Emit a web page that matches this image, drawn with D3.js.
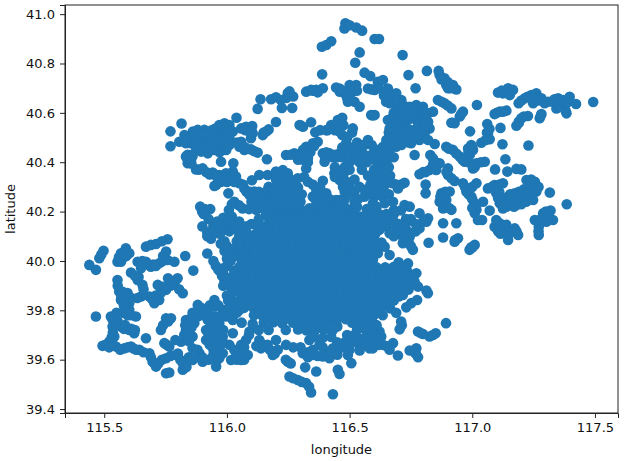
<!DOCTYPE html>
<html>
<head>
	<meta charset="utf-8">
	<style>
	html, body { margin: 0; padding: 0; background: #fff; }
	svg { display: block; }
	text { font-family: "DejaVu Sans", sans-serif; fill: #111; }
	.tick text { font-size: 13px; }
	.tick line, .domain { stroke: #222; }
	</style>
</head>
<body>
<div id="graph"></div>
<script src="https://d3js.org/d3.v7.min.js"></script>
<script>

var xTicks = [115.5, 116.0, 116.5, 117.0, 117.5],
    yTicks = [39.4, 39.6, 39.8, 40.0, 40.2, 40.4, 40.6, 40.8, 41.0];

// stations, [longitude, latitude], by area
var west = [[115.439,39.984],[115.466,39.964],[115.48,40.011],[115.497,40.041],[115.554,39.997],[115.568,40.031],[115.588,40.051],[115.602,40.031],[115.568,39.997],[115.67,40.058],[115.711,40.069],[115.758,40.088],[115.83,40.02],[115.863,39.961],[115.636,39.997],[115.67,39.997],[115.65,39.97],[115.609,39.953],[115.636,39.923],[115.656,39.903],[115.69,39.977],[115.724,39.991],[115.752,40.038],[115.758,40.004],[115.786,39.997],[115.799,39.93],[115.772,39.916],[115.752,39.883],[115.82,39.869],[115.718,39.903],[115.724,39.842],[115.704,39.829],[115.684,39.856],[115.65,39.856],[115.554,39.923],[115.561,39.876],[115.568,39.842],[115.602,39.829],[115.588,39.856],[115.602,39.802],[115.629,39.775],[115.527,39.775],[115.466,39.775],[115.534,39.734],[115.568,39.734],[115.602,39.72],[115.622,39.707],[115.67,39.687],[115.541,39.694],[115.52,39.673],[115.493,39.656],[115.548,39.653],[115.582,39.646],[115.609,39.653],[115.643,39.64],[115.684,39.626],[115.697,39.592],[115.711,39.572],[115.752,39.606],[115.792,39.619],[115.752,39.545],[115.765,39.548],[115.82,39.559],[115.82,39.586],[115.86,39.646],[115.901,39.592],[115.956,39.572],[115.969,39.606],[115.888,39.626],[115.86,39.599],[115.752,39.768],[115.731,39.72],[115.772,39.768],[115.745,39.667],[115.765,39.653],[115.813,39.673],[115.826,39.7],[115.86,39.694],[115.833,39.761],[115.854,39.768],[115.867,39.748],[115.833,39.72],[115.881,39.822],[115.915,39.795],[115.949,39.842],[115.983,39.802],[115.922,39.761],[115.956,39.775],[115.996,39.775],[115.915,39.72],[115.915,39.68],[115.942,39.734],[115.969,39.748],[115.983,39.694],[115.956,39.66],[115.983,39.626],[115.942,39.694],[115.956,39.7],[116.024,39.761],[116.024,39.707],[116.01,39.66],[116.037,39.613],[116.017,39.599],[116.058,39.599],[116.085,39.619],[116.058,39.66],[116.078,39.68],[116.092,39.714]];

var westMore = [[115.488,40.026],[115.58,40.015],[115.56,40.015],[115.585,40.035],[115.59,40.02],[115.65,39.985],[115.655,40.0],[115.68,39.985],[115.7,39.985],[115.71,39.98],[115.735,39.998],[115.74,40.02],[115.64,39.935],[115.625,39.94],[115.66,39.885],[115.69,40.065],[115.735,40.08],[115.77,39.9],[115.79,39.92],[115.74,39.895],[115.73,39.87],[115.71,39.86],[115.695,39.845],[115.805,39.885],[115.76,39.93],[115.57,39.855],[115.585,39.84],[115.575,39.875],[115.595,39.87],[115.61,39.85],[115.555,39.9],[115.58,39.82],[115.59,39.8],[115.57,39.86],[115.635,39.85],[115.61,39.78],[115.595,39.78],[115.575,39.79],[115.55,39.79],[115.535,39.76],[115.555,39.755],[115.58,39.725],[115.585,39.74],[115.61,39.725],[115.625,39.72],[115.505,39.66],[115.52,39.65],[115.535,39.66],[115.565,39.64],[115.595,39.65],[115.62,39.645],[115.63,39.64],[115.66,39.63],[115.69,39.61],[115.705,39.585],[115.72,39.585],[115.735,39.6],[115.77,39.615],[115.8,39.625],[115.81,39.6],[115.835,39.57],[115.845,39.61],[115.88,39.64],[115.875,39.61],[115.9,39.61],[115.925,39.6],[115.95,39.62],[115.96,39.6],[115.53,39.69],[115.535,39.71],[115.74,39.74],[115.76,39.755],[115.755,39.66],[115.79,39.68],[115.84,39.69],[115.845,39.71],[115.855,39.73],[115.83,39.74],[115.845,39.675],[115.895,39.81],[115.9,39.78],[115.93,39.82],[115.95,39.815],[115.965,39.82],[115.975,39.775],[115.93,39.78],[115.935,39.75],[115.95,39.75],[115.93,39.72],[115.96,39.72],[115.925,39.7],[115.97,39.7],[115.97,39.67],[115.94,39.67],[115.97,39.65],[115.985,39.67],[115.985,39.72],[115.93,39.66],[115.945,39.64],[115.97,39.63],[115.945,39.62],[115.88,39.775],[115.86,39.79],[116.03,39.64],[116.05,39.63],[116.07,39.63],[116.07,39.6],[116.04,39.6],[116.07,39.65],[116.09,39.7],[116.105,39.745],[116.06,39.75],[116.0,39.78],[116.02,39.78],[116.04,39.79],[116.01,39.81],[116.05,39.8],[116.005,39.84],[116.03,39.82],[115.99,39.92],[115.98,39.94],[116.0,39.86],[116.02,39.84],[115.985,39.9]];

var south = [[116.139,39.646],[116.187,39.619],[116.207,39.64],[116.248,39.592],[116.255,39.532],[116.289,39.518],[116.323,39.505],[116.343,39.467],[116.319,39.569],[116.364,39.552],[116.432,39.46],[116.309,39.626],[116.35,39.619],[116.391,39.613],[116.418,39.606],[116.452,39.559],[116.166,39.66],[116.132,39.68],[116.2,39.68],[116.241,39.66],[116.336,39.68],[116.377,39.66],[116.432,39.646],[116.459,39.542],[116.893,39.748],[116.713,39.74],[116.704,39.723],[116.779,39.714],[116.799,39.704],[116.826,39.694],[116.851,39.707],[116.622,39.714],[116.629,39.694],[116.677,39.667],[116.663,39.64],[116.636,39.66],[116.595,39.646],[116.581,39.646],[116.541,39.66],[116.541,39.637],[116.5,39.64],[116.493,39.619],[116.507,39.586],[116.52,39.7],[116.697,39.617],[116.745,39.637],[116.772,39.646],[116.779,39.61],
[116.12,39.655],[116.15,39.66],[116.175,39.64],[116.195,39.625],[116.24,39.6],[116.26,39.585],[116.27,39.525],[116.305,39.51],[116.335,39.49],[116.33,39.63],[116.33,39.61],[116.37,39.615],[116.41,39.63],[116.35,39.64],[116.39,39.65],[116.45,39.62],[116.47,39.65],[116.555,39.66],[116.57,39.68],[116.6,39.67],[116.62,39.66],[116.65,39.655],[116.54,39.68],[116.6,39.7],[116.6,39.72],[116.61,39.74],[116.58,39.72],[116.3,39.65],[116.27,39.65],[116.45,39.67],[116.48,39.67],[116.51,39.67],[116.49,39.7],[116.765,39.63],[116.77,39.625],[116.71,39.755],[116.79,39.708],[116.84,39.7]];

var northwest = [[115.77,40.525],[115.815,40.557],[115.77,40.465],[115.827,40.51],[115.806,40.483],[115.861,40.524],[115.881,40.531],[115.908,40.531],[115.935,40.528],[115.969,40.551],[115.99,40.558],[116.01,40.551],[116.024,40.524],[115.983,40.524],[115.963,40.504],[115.915,40.49],[115.874,40.49],[115.854,40.477],[115.833,40.477],[115.874,40.456],[115.895,40.443],[115.922,40.436],[115.949,40.45],[115.969,40.463],[115.99,40.477],[116.01,40.497],[115.997,40.45],[115.949,40.483],[116.039,40.58],[116.058,40.537],[116.078,40.544],[116.103,40.547],[116.092,40.524],[116.105,40.517],[116.098,40.497],[116.146,40.51],[116.16,40.524],[116.17,40.533],[116.058,40.483],[116.051,40.463],[116.071,40.45],[116.098,40.452],[116.125,40.439],[116.163,40.412],[115.833,40.423],[115.84,40.396],[115.854,40.409],[115.847,40.429],[115.874,40.371],[115.901,40.375],[115.942,40.358],[115.976,40.402],[116.026,40.396],[115.969,40.348],[115.996,40.355],[116.024,40.362],[116.037,40.342],[116.01,40.335],[115.983,40.335],[115.956,40.308],[115.949,40.304],[116.051,40.315],[116.071,40.294],[116.092,40.267],[116.112,40.281],[116.132,40.261],[116.139,40.24],[116.006,40.274],[116.03,40.24],[116.064,40.213],[116.119,40.207],[115.891,40.22],[115.932,40.21],[115.899,40.2],[116.008,40.206],[115.925,40.17],[115.945,40.145],[116.102,40.327],[116.132,40.348],[116.166,40.348],[116.2,40.362],[116.228,40.368],[116.248,40.355],[115.99,40.15],[116.01,40.16],[115.98,40.12],[115.9,40.14],[115.92,40.115],[115.935,40.09],[115.99,40.08],[115.96,40.16],[115.99,40.04],[116.0,40.01],[115.92,40.03],[115.945,40.0],[115.965,39.965]];

var northwestMore = [[115.85,40.5],[115.87,40.51],[115.89,40.51],[115.83,40.49],[115.9,40.51],[115.94,40.5],[115.955,40.52],[115.98,40.54],[115.95,40.535],[116.0,40.53],[115.93,40.47],[115.95,40.47],[115.93,40.455],[115.91,40.46],[115.97,40.44],[115.985,40.45],[115.98,40.49],[116.0,40.465],[116.01,40.47],[115.89,40.47],[115.875,40.47],[116.075,40.53],[116.1,40.53],[116.06,40.47],[116.075,40.46],[116.11,40.445],[116.15,40.52],[116.04,40.48],[115.84,40.41],[115.84,40.43],[115.86,40.425],[115.855,40.395],[115.885,40.37],[115.915,40.36],[115.93,40.35],[115.96,40.34],[115.95,40.35],[115.975,40.32],[116.0,40.32],[116.02,40.34],[116.04,40.32],[116.03,40.32],[116.065,40.31],[116.08,40.28],[116.095,40.28],[116.1,40.24],[116.12,40.25],[116.13,40.28],[116.11,40.23],[116.02,40.23],[116.05,40.225],[116.09,40.21],[115.91,40.21],[115.905,40.19],[115.935,40.12],[115.92,40.1],[115.97,40.14],[116.0,40.13],[116.01,40.12],[116.03,40.13],[116.02,40.18],[115.985,40.175],[116.03,40.16],[116.05,40.16],[116.05,40.14],[115.975,40.07],[116.0,40.06],[115.97,40.11],[115.955,39.98],[115.97,39.96],[115.985,39.95],[115.985,39.97],[116.0,39.98],[116.015,40.0],[116.02,40.02]];

var north = [[116.387,40.868],[116.405,40.875],[116.425,40.89],[116.388,40.756],[116.323,40.686],[116.343,40.693],[116.364,40.693],[116.391,40.70],[116.37,40.683],[116.445,40.703],[116.46,40.686],[116.248,40.68],[116.27,40.666],[116.242,40.66],[116.255,40.687],[116.18,40.655],[116.2,40.663],[116.22,40.652],[116.137,40.655],[116.125,40.616],[116.224,40.62],[116.266,40.62],[116.2,40.563],[116.296,40.551],[116.31,40.544],[116.343,40.562],[116.36,40.521],[116.405,40.53],[116.425,40.551],[116.452,40.571],[116.452,40.531],[116.323,40.463],[116.35,40.477],[116.37,40.483],[116.241,40.429],[116.275,40.436],[116.309,40.423],[116.33,40.416],[116.296,40.429],[116.391,40.436],[116.418,40.436],[116.398,40.402],[116.46,40.436],[116.33,40.44],[116.289,40.335],[116.33,40.321],[116.364,40.288],[116.405,40.274],[116.377,40.247],[116.35,40.261],[116.438,40.355],[116.459,40.328],[116.391,40.325],[116.323,40.375],[116.405,40.22],[116.445,40.247],[116.336,40.213],[116.418,40.193],[116.452,40.213],[116.483,40.963],[116.479,40.942],[116.5,40.955],[116.527,40.946],[116.551,40.933],[116.602,40.899],[116.62,40.899],[116.541,40.845],[116.523,40.803],[116.716,40.834],[116.561,40.763],[116.584,40.749],[116.615,40.726],[116.636,40.733],[116.74,40.753],[116.815,40.77],[116.769,40.70],[116.459,40.699],[116.479,40.679],[116.5,40.713],[116.527,40.713],[116.513,40.686],[116.493,40.645],[116.52,40.645],[116.541,40.625],[116.575,40.699],[116.602,40.693],[116.656,40.699],[116.649,40.645],[116.588,40.591],[116.602,40.591]];

var northMore = [[116.34,40.44],[116.31,40.45],[116.26,40.43],[116.32,40.44],[116.355,40.465],[116.31,40.41],[116.29,40.41],[116.33,40.4],[116.4,40.42],[116.43,40.42],[116.405,40.44],[116.44,40.43],[116.45,40.42],[116.47,40.42],[116.44,40.38],[116.46,40.36],[116.44,40.34],[116.48,40.38],[116.5,40.4],[116.475,40.35],[116.5,40.37],[116.315,40.34],[116.35,40.31],[116.38,40.3],[116.39,40.27],[116.36,40.25],[116.39,40.24],[116.42,40.25],[116.42,40.22],[116.36,40.22],[116.39,40.21],[116.44,40.21],[116.47,40.21],[116.48,40.25],[116.51,40.21],[116.53,40.22],[116.57,40.21],[116.52,40.24],[116.5,40.3],[116.52,40.28],[116.49,40.32],[116.52,40.33],[116.54,40.3],[116.56,40.26],[116.48,40.28],[116.47,40.69],[116.49,40.66],[116.505,40.65],[116.53,40.69],[116.52,40.7],[116.5,40.69],[116.59,40.695],[116.62,40.7],[116.64,40.67],[116.66,40.67],[116.67,40.66],[116.675,40.64],[116.595,40.59],[116.475,40.55],[116.46,40.55],[116.47,40.51],[116.49,40.5],[116.51,40.52],[116.53,40.48],[116.55,40.47],[116.47,40.46],[116.5,40.46],[116.59,40.47],[116.56,40.47],[116.48,40.44],[116.35,40.69],[116.41,40.53],[116.44,40.55],[116.44,40.53],[116.38,40.53],[116.47,40.58],[116.3,40.55]];

var northeast = [[116.863,40.77],[116.867,40.753],[116.887,40.74],[116.894,40.713],[116.921,40.713],[116.935,40.695],[116.901,40.70],[117.105,40.682],[117.125,40.679],[117.146,40.70],[117.166,40.693],[117.153,40.672],[117.189,40.639],[117.214,40.659],[117.241,40.672],[117.261,40.679],[117.248,40.639],[117.282,40.659],[117.295,40.639],[117.329,40.645],[117.35,40.659],[117.37,40.652],[117.397,40.665],[117.343,40.618],[117.384,40.598],[117.377,40.632],[117.423,40.636],[117.493,40.644],[117.019,40.632],[116.86,40.652],[116.887,40.639],[116.915,40.618],[116.962,40.605],[116.949,40.585],[116.915,40.56],[116.928,40.558],[117.091,40.595],[117.112,40.605],[117.139,40.609],[117.18,40.548],[117.2,40.578],[117.227,40.587],[117.275,40.578],[117.282,40.595],[117.061,40.555],[117.115,40.539],[116.991,40.525],[117.064,40.517],[117.071,40.493],[117.037,40.479],[117.123,40.473],[117.229,40.468],
[116.875,40.735],[116.9,40.725],[116.91,40.7],[116.925,40.7],[116.875,40.645],[116.9,40.63],[116.955,40.595],[116.92,40.56],[117.1,40.6],[117.125,40.605],[117.19,40.56],[117.21,40.585],[117.19,40.565],[117.28,40.59],[117.2,40.65],[117.225,40.665],[117.25,40.66],[117.27,40.65],[117.31,40.645],[117.335,40.655],[117.36,40.64],[117.35,40.63],[117.38,40.61],[117.385,40.64],[117.12,40.69],[117.14,40.68],[117.06,40.52],[117.055,40.49],[117.07,40.535]];

var east = [[117.135,40.412],[117.093,40.371],[117.143,40.362],[117.18,40.373],[117.2,40.371],[116.894,40.463],[116.921,40.45],[116.949,40.423],[116.969,40.402],[116.996,40.47],[117.003,40.45],[116.983,40.456],[117.017,40.396],[117.051,40.402],[117.003,40.375],[116.765,40.429],[116.829,40.429],[116.847,40.402],[116.867,40.396],[116.853,40.369],[116.826,40.369],[116.785,40.351],[116.901,40.375],[116.901,40.348],[116.928,40.324],[116.81,40.31],[116.81,40.274],[116.874,40.274],[116.908,40.281],[116.867,40.24],[116.894,40.247],[116.915,40.207],[116.881,40.213],[116.962,40.315],[116.976,40.281],[116.996,40.261],[117.017,40.315],[117.01,40.234],[117.044,40.24],[117.017,40.207],[117.071,40.204],[117.064,40.294],[117.091,40.308],[117.125,40.315],[117.098,40.274],[117.112,40.234],[117.132,40.247],[117.173,40.274],[117.153,40.234],[117.193,40.247],[117.221,40.328],[117.255,40.321],[117.234,40.301],[117.261,40.281],[117.248,40.247],[117.214,40.261],[117.18,40.227],[117.125,40.213],[117.316,40.277],[117.385,40.23],[117.289,40.193],[117.319,40.204],[117.145,40.26],[117.19,40.28],[117.21,40.29],[117.091,40.139],[117.112,40.153],[117.125,40.126],[117.146,40.085],[117.173,40.132],[117.187,40.105],[117.098,40.166],[117.139,40.146],[117.271,40.105],[117.271,40.139],[117.255,40.166],[117.302,40.159],[117.329,40.166],[117.04,40.166],[117.01,40.193],[117.023,40.166],[116.881,40.153],[116.935,40.153],[116.881,40.095],[116.822,40.074],[116.928,40.078],[116.942,40.092],[116.989,40.045],[117.01,40.065],[116.785,40.193],[116.82,40.173],[116.785,40.132],[116.813,40.159],[116.745,40.099],[116.758,40.045],[116.717,40.072],[116.738,40.119],[116.69,40.139],[116.731,40.153]];

var eastMore = [[116.905,40.455],[116.935,40.435],[116.96,40.41],[116.985,40.4],[117.0,40.39],[116.99,40.43],[117.01,40.38],[117.035,40.4],[116.985,40.44],[117.0,40.46],[116.84,40.415],[116.84,40.39],[116.81,40.36],[116.8,40.36],[116.895,40.36],[116.915,40.335],[116.88,40.26],[116.89,40.28],[116.87,40.26],[116.895,40.22],[116.905,40.215],[116.97,40.3],[116.985,40.27],[117.0,40.25],[117.0,40.3],[117.015,40.22],[117.0,40.215],[117.08,40.3],[117.11,40.31],[117.09,40.29],[117.11,40.28],[117.105,40.255],[117.12,40.24],[117.14,40.22],[117.17,40.22],[117.16,40.25],[117.18,40.25],[117.2,40.27],[117.23,40.28],[117.24,40.26],[117.2,40.23],[117.22,40.24],[117.24,40.31],[117.24,40.33],[117.25,40.3],[117.27,40.3],[117.13,40.23],[117.155,40.27],[117.16,40.26],[117.3,40.2],[117.31,40.18],[117.28,40.17],[117.27,40.12],[117.11,40.135],[117.12,40.14],[117.13,40.14],[117.1,40.15],[117.14,40.12],[117.15,40.11],[117.18,40.12],[117.105,40.12],[117.115,40.11],[116.93,40.085],[116.995,40.055],[117.0,40.055],[116.8,40.16],[116.77,40.12],[116.77,40.15],[116.75,40.17],[116.73,40.17],[116.71,40.12],[116.72,40.14],[116.7,40.11],[116.68,40.1],[116.72,40.09],[116.74,40.08],[116.75,40.06],[116.7,40.15],[116.65,40.14],[116.63,40.15],[116.61,40.16],[116.6,40.17],[116.57,40.17],[116.59,40.18],[116.62,40.19],[116.65,40.19],[116.66,40.17],[116.54,40.18],[116.52,40.19],[116.49,40.19],[116.46,40.19],[116.43,40.2],[116.4,40.19],[116.37,40.19],[116.34,40.19],[116.31,40.19],[116.28,40.19],[116.25,40.19],[116.22,40.19],[116.19,40.19],[116.16,40.19],[116.13,40.17],[116.1,40.15],[116.08,40.14],[116.06,40.11],[116.05,40.1],[116.68,40.205],[116.71,40.205],[116.61,40.22],[116.635,40.26],[116.6,40.26],[116.58,40.27],[116.62,40.27],[116.66,40.27],[116.69,40.31],[116.71,40.31]];

var northeastDense = [[116.663,40.639],[116.69,40.679],[116.711,40.652],[116.697,40.612],[116.677,40.585],[116.656,40.571],[116.717,40.612],[116.745,40.625],[116.772,40.632],[116.799,40.625],[116.82,40.598],[116.84,40.605],[116.799,40.591],[116.82,40.564],[116.826,40.537],[116.806,40.517],[116.785,40.49],[116.751,40.477],[116.724,40.483],[116.697,40.517],[116.663,40.537],[116.677,40.558],[116.704,40.578],[116.738,40.571],[116.772,40.571],[116.792,40.551],[116.772,40.524],[116.67,40.517],[116.663,40.504],[116.847,40.474],[116.82,40.49],[116.649,40.477],[116.636,40.463],[116.609,40.45],[116.636,40.423],[116.663,40.45],[116.69,40.463],[116.711,40.47],[116.541,40.463],[116.513,40.537],[116.575,40.49],[116.486,40.477],[116.459,40.524],[116.459,40.571],[116.7,40.55],[116.73,40.54],[116.755,40.6],[116.75,40.51],[116.53,40.44],[116.5,40.44],[116.56,40.43],[116.59,40.43],[116.62,40.4],[116.65,40.4],[116.68,40.42],[116.51,40.41],[116.54,40.4],[116.57,40.4],[116.6,40.37],[116.63,40.37],[116.66,40.38],[116.55,40.37],[116.575,40.345],[116.605,40.34],[116.635,40.34],[116.665,40.345],[116.585,40.31],[116.615,40.31],[116.645,40.31],[116.675,40.315],[116.724,40.317],[116.697,40.294],[116.636,40.288],[116.595,40.294],[116.561,40.288],[116.534,40.25],[116.5,40.274],[116.473,40.301],[116.595,40.234],[116.602,40.207],[116.643,40.234],[116.677,40.24],[116.724,40.227],[116.745,40.22],[116.683,40.193],[116.636,40.18],[116.507,40.18],[116.554,40.18],[116.459,40.247],[116.479,40.22],[116.663,40.112],[116.622,40.126],[116.595,40.139],[116.677,40.166],
[116.68,40.6],[116.7,40.6],[116.72,40.59],[116.69,40.56],[116.72,40.55],[116.74,40.59],[116.76,40.59],[116.78,40.6],[116.81,40.6],[116.78,40.55],[116.81,40.55],[116.8,40.53],[116.78,40.51],[116.76,40.49],[116.74,40.48],[116.7,40.49],[116.71,40.5],[116.69,40.53],[116.68,40.52],[116.66,40.52],[116.65,40.49],[116.67,40.48],[116.68,40.5],[116.66,40.47],[116.62,40.45],[116.64,40.44],[116.65,40.43],[116.62,40.43],[116.6,40.41],[116.58,40.42],[116.55,40.41],[116.53,40.42],[116.71,40.64],[116.72,40.63],[116.74,40.61],[116.77,40.61],[116.76,40.62],[116.73,40.53],[116.76,40.5],[116.75,40.53]];

var lobe = [[116.2,40.33],[116.23,40.335],[116.26,40.33],[116.17,40.3],[116.2,40.3],[116.232,40.303],[116.265,40.3],[116.29,40.298],[116.15,40.27],[116.18,40.27],[116.21,40.272],[116.24,40.27],[116.27,40.268],[116.305,40.27],[116.15,40.24],[116.18,40.242],[116.21,40.24],[116.24,40.24],[116.27,40.243],[116.3,40.24],[116.15,40.21],[116.18,40.21],[116.21,40.212],[116.24,40.21],[116.27,40.208],[116.3,40.21],[116.33,40.2],[116.165,40.285],[116.195,40.255],[116.225,40.255],[116.255,40.255],[116.285,40.255],[116.165,40.225],[116.195,40.225],[116.225,40.225],[116.255,40.225],[116.285,40.225],[116.215,40.315],[116.25,40.315],[116.195,40.285],[116.225,40.285],[116.255,40.285],[116.285,40.285]];

var core = [
[116.17,40.175],[116.205,40.17],[116.24,40.175],[116.275,40.17],[116.31,40.175],[116.345,40.17],[116.38,40.175],[116.415,40.17],[116.45,40.175],[116.485,40.17],[116.52,40.175],
[116.12,40.145],[116.155,40.14],[116.19,40.145],[116.225,40.14],[116.26,40.145],[116.295,40.14],[116.33,40.145],[116.365,40.14],[116.4,40.145],[116.435,40.14],[116.47,40.145],[116.505,40.14],[116.54,40.145],[116.575,40.14],
[116.08,40.112],[116.115,40.108],[116.15,40.112],[116.185,40.11],[116.22,40.112],[116.255,40.108],[116.29,40.112],[116.325,40.11],[116.36,40.112],[116.395,40.108],[116.43,40.112],[116.465,40.11],[116.5,40.112],[116.535,40.108],[116.57,40.112],[116.605,40.11],
[116.04,40.08],[116.075,40.082],[116.11,40.078],[116.145,40.08],[116.18,40.082],[116.215,40.078],[116.25,40.08],[116.285,40.082],[116.32,40.078],[116.355,40.08],[116.39,40.082],[116.425,40.078],[116.46,40.08],[116.495,40.082],[116.53,40.078],[116.565,40.08],[116.6,40.082],[116.63,40.075],
[116.03,40.05],[116.06,40.048],[116.095,40.052],[116.13,40.05],[116.165,40.048],[116.2,40.052],[116.235,40.05],[116.27,40.048],[116.305,40.052],[116.34,40.05],[116.375,40.048],[116.41,40.052],[116.445,40.05],[116.48,40.048],[116.515,40.052],[116.55,40.05],[116.588,40.051],
[116.04,40.02],[116.085,40.022],[116.12,40.018],[116.155,40.02],[116.19,40.022],[116.225,40.018],[116.26,40.02],[116.295,40.022],[116.33,40.018],[116.365,40.02],[116.4,40.022],[116.435,40.018],[116.47,40.02],[116.505,40.022],[116.54,40.018],[116.575,40.02],[116.615,40.031],[116.643,40.058],[116.663,40.024],
[116.06,39.99],[116.1,39.988],[116.135,39.992],[116.17,39.99],[116.205,39.988],[116.24,39.992],[116.275,39.99],[116.31,39.988],[116.345,39.992],[116.38,39.99],[116.415,39.988],[116.45,39.992],[116.485,39.99],[116.52,39.988],[116.555,39.992],[116.59,39.99],[116.7,39.995],[116.738,39.99],
[116.03,39.96],[116.065,39.958],[116.1,39.962],[116.135,39.96],[116.17,39.958],[116.205,39.962],[116.24,39.96],[116.275,39.958],[116.31,39.962],[116.345,39.96],[116.38,39.958],[116.415,39.962],[116.45,39.96],[116.485,39.958],[116.52,39.962],[116.555,39.96],[116.59,39.958],[116.625,39.962],[116.663,39.964],[116.7,39.96],[116.735,39.958],[116.772,39.95],
[116.01,39.93],[116.045,39.932],[116.08,39.928],[116.115,39.93],[116.15,39.932],[116.185,39.928],[116.22,39.93],[116.255,39.932],[116.29,39.928],[116.325,39.93],[116.36,39.932],[116.395,39.928],[116.43,39.93],[116.465,39.932],[116.5,39.928],[116.535,39.93],[116.57,39.932],[116.605,39.928],[116.64,39.93],[116.675,39.932],[116.71,39.928],[116.745,39.93],[116.765,39.916],
[116.01,39.9],[116.045,39.898],[116.08,39.902],[116.115,39.9],[116.15,39.898],[116.185,39.902],[116.22,39.9],[116.255,39.898],[116.29,39.902],[116.325,39.9],[116.36,39.898],[116.395,39.902],[116.43,39.9],[116.465,39.898],[116.5,39.902],[116.535,39.9],[116.57,39.898],[116.605,39.902],[116.64,39.9],[116.675,39.898],[116.71,39.902],[116.745,39.9],[116.779,39.896],
[116.02,39.87],[116.055,39.872],[116.09,39.868],[116.125,39.87],[116.16,39.872],[116.195,39.868],[116.23,39.87],[116.265,39.872],[116.3,39.868],[116.335,39.87],[116.37,39.872],[116.405,39.868],[116.44,39.87],[116.475,39.872],[116.51,39.868],[116.545,39.87],[116.58,39.872],[116.615,39.868],[116.65,39.87],[116.685,39.872],[116.717,39.862],
[116.05,39.84],[116.085,39.838],[116.12,39.842],[116.155,39.84],[116.19,39.838],[116.225,39.842],[116.26,39.84],[116.295,39.838],[116.33,39.842],[116.365,39.84],[116.4,39.838],[116.435,39.842],[116.47,39.84],[116.505,39.838],[116.54,39.842],[116.575,39.84],[116.61,39.838],[116.645,39.842],[116.68,39.84],[116.775,39.842],[116.751,39.829],[116.731,39.812],[116.819,39.869],[116.813,39.88],
[116.07,39.81],[116.105,39.812],[116.14,39.808],[116.175,39.81],[116.21,39.812],[116.245,39.808],[116.28,39.81],[116.315,39.812],[116.35,39.808],[116.385,39.81],[116.42,39.812],[116.455,39.808],[116.49,39.81],[116.525,39.812],[116.56,39.808],[116.595,39.81],[116.63,39.812],[116.665,39.808],[116.69,39.79],
[116.11,39.78],[116.145,39.778],[116.18,39.782],[116.215,39.78],[116.25,39.778],[116.285,39.782],[116.32,39.78],[116.355,39.778],[116.39,39.782],[116.425,39.78],[116.46,39.778],[116.495,39.782],[116.53,39.78],[116.565,39.778],[116.6,39.782],[116.635,39.78],
[116.15,39.75],[116.19,39.752],[116.225,39.748],[116.27,39.75],[116.305,39.752],[116.34,39.748],[116.375,39.75],[116.41,39.752],[116.445,39.748],[116.51,39.75],[116.545,39.752],[116.58,39.748],
[116.13,39.72],[116.17,39.72],[116.24,39.72],[116.29,39.722],[116.325,39.718],[116.36,39.72],[116.395,39.722],[116.43,39.718],[116.53,39.72],[116.565,39.722],[116.59,39.718],
[116.355,39.692],[116.39,39.688],[116.425,39.692],[116.53,39.69],[116.56,39.688]];

var coreMore = [
[116.19,40.16],[116.26,40.158],[116.33,40.16],[116.4,40.158],[116.47,40.16],[116.54,40.158],
[116.13,40.128],[116.2,40.126],[116.27,40.128],[116.34,40.126],[116.41,40.128],[116.48,40.126],[116.55,40.128],
[116.09,40.095],[116.165,40.096],[116.235,40.094],[116.305,40.096],[116.375,40.094],[116.445,40.096],[116.515,40.094],[116.585,40.096],
[116.05,40.065],[116.125,40.066],[116.195,40.064],[116.265,40.066],[116.335,40.064],[116.405,40.066],[116.475,40.064],[116.545,40.066],[116.615,40.064],
[116.07,40.035],[116.145,40.036],[116.215,40.034],[116.285,40.036],[116.355,40.034],[116.425,40.036],[116.495,40.034],[116.565,40.036],
[116.105,40.005],[116.175,40.006],[116.245,40.004],[116.315,40.006],[116.385,40.004],[116.455,40.006],[116.525,40.004],[116.595,40.006],
[116.05,39.975],[116.12,39.976],[116.19,39.974],[116.26,39.976],[116.33,39.974],[116.4,39.976],[116.47,39.974],[116.54,39.976],[116.61,39.974],[116.68,39.976],[116.72,39.975],
[116.03,39.945],[116.1,39.946],[116.17,39.944],[116.24,39.946],[116.31,39.944],[116.38,39.946],[116.45,39.944],[116.52,39.946],[116.59,39.944],[116.66,39.946],[116.73,39.944],
[116.03,39.915],[116.1,39.916],[116.17,39.914],[116.24,39.916],[116.31,39.914],[116.38,39.916],[116.45,39.914],[116.52,39.916],[116.59,39.914],[116.66,39.916],[116.73,39.914],
[116.04,39.885],[116.11,39.886],[116.18,39.884],[116.25,39.886],[116.32,39.884],[116.39,39.886],[116.46,39.884],[116.53,39.886],[116.6,39.884],[116.67,39.886],[116.74,39.884],
[116.07,39.855],[116.14,39.856],[116.21,39.854],[116.28,39.856],[116.35,39.854],[116.42,39.856],[116.49,39.854],[116.56,39.856],[116.63,39.854],[116.7,39.856],
[116.1,39.825],[116.17,39.826],[116.24,39.824],[116.31,39.826],[116.38,39.824],[116.45,39.826],[116.52,39.824],[116.59,39.826],[116.66,39.824],
[116.13,39.795],[116.2,39.796],[116.27,39.794],[116.34,39.796],[116.41,39.794],[116.48,39.796],[116.55,39.794],[116.62,39.796],
[116.17,39.765],[116.24,39.766],[116.31,39.764],[116.38,39.766],[116.45,39.764],[116.52,39.766],[116.59,39.764],
[116.31,39.735],[116.38,39.736],[116.45,39.734],[116.55,39.736]];

var coreGaps = [
[116.225,40.16],[116.295,40.158],[116.365,40.16],[116.435,40.158],[116.505,40.16],
[116.165,40.128],[116.235,40.126],[116.305,40.128],[116.375,40.126],[116.445,40.128],[116.515,40.126],[116.585,40.128],
[116.13,40.095],[116.2,40.096],[116.27,40.094],[116.34,40.096],[116.41,40.094],[116.48,40.096],[116.55,40.094],
[116.09,40.065],[116.16,40.066],[116.23,40.064],[116.3,40.066],[116.37,40.064],[116.44,40.066],[116.51,40.064],[116.58,40.066],
[116.11,40.035],[116.18,40.036],[116.25,40.034],[116.32,40.036],[116.39,40.034],[116.46,40.036],[116.53,40.034],[116.6,40.036],
[116.07,40.005],[116.14,40.006],[116.21,40.004],[116.28,40.006],[116.35,40.004],[116.42,40.006],[116.49,40.004],[116.56,40.006],
[116.085,39.975],[116.155,39.976],[116.225,39.974],[116.295,39.976],[116.365,39.974],[116.435,39.976],[116.505,39.974],[116.575,39.976],[116.645,39.974],
[116.065,39.945],[116.135,39.946],[116.205,39.944],[116.275,39.946],[116.345,39.944],[116.415,39.946],[116.485,39.944],[116.555,39.946],[116.625,39.944],[116.695,39.946],
[116.065,39.915],[116.135,39.916],[116.205,39.914],[116.275,39.916],[116.345,39.914],[116.415,39.916],[116.485,39.914],[116.555,39.916],[116.625,39.914],[116.695,39.916],
[116.075,39.885],[116.145,39.886],[116.215,39.884],[116.285,39.886],[116.355,39.884],[116.425,39.886],[116.495,39.884],[116.565,39.886],[116.635,39.884],[116.705,39.886],
[116.105,39.855],[116.175,39.856],[116.245,39.854],[116.315,39.856],[116.385,39.854],[116.455,39.856],[116.525,39.854],[116.595,39.856],[116.665,39.854],
[116.135,39.825],[116.205,39.826],[116.275,39.824],[116.345,39.826],[116.415,39.824],[116.485,39.826],[116.555,39.824],[116.625,39.826],
[116.165,39.795],[116.235,39.796],[116.305,39.794],[116.375,39.796],[116.445,39.794],[116.515,39.796],[116.585,39.794],
[116.205,39.765],[116.275,39.766],[116.345,39.764],[116.415,39.766],[116.485,39.764],[116.555,39.766]];

var stations = west.concat(westMore, south, northwest, northwestMore, north, northMore, northeast, east, eastMore, northeastDense, lobe, core, coreMore, coreGaps);

var margin = {top: 5, right: 6, bottom: 48, left: 65},
    width = 624 - margin.left - margin.right,
    height = 461 - margin.top - margin.bottom;

var x = d3.scaleLinear().domain([115.34, 117.594]).range([0, width]);
var y = d3.scaleLinear().domain([39.384, 41.037]).range([height, 0]);

var svg = d3.select("#graph").append("svg")
    .attr("width", 624)
    .attr("height", 461)
  .append("g")
    .attr("transform", "translate(" + margin.left + "," + margin.top + ")");

svg.selectAll(".dot")
    .data(stations)
  .enter().append("circle")
    .attr("class", "dot")
    .attr("cx", function(d) { return x(d[0]); })
    .attr("cy", function(d) { return y(d[1]); })
    .attr("r", 5.3)
    .attr("fill", "#1f77b4");

svg.append("rect")
    .attr("width", width)
    .attr("height", height)
    .attr("fill", "none")
    .attr("stroke", "#222");

svg.append("g")
    .attr("transform", "translate(0," + height + ")")
    .call(d3.axisBottom(x).tickValues(xTicks).tickFormat(d3.format(".1f")).tickSize(5).tickPadding(5));

svg.append("g")
    .call(d3.axisLeft(y).tickValues(yTicks).tickFormat(d3.format(".1f")).tickSize(5).tickPadding(5));

svg.append("text")
    .attr("x", width / 2)
    .attr("y", height + 41)
    .attr("text-anchor", "middle")
    .style("font-size", "13px")
    .text("longitude");

svg.append("text")
    .attr("transform", "translate(-50," + (height / 2) + ") rotate(-90)")
    .attr("text-anchor", "middle")
    .style("font-size", "13px")
    .text("latitude");

</script>
</body>
</html>
